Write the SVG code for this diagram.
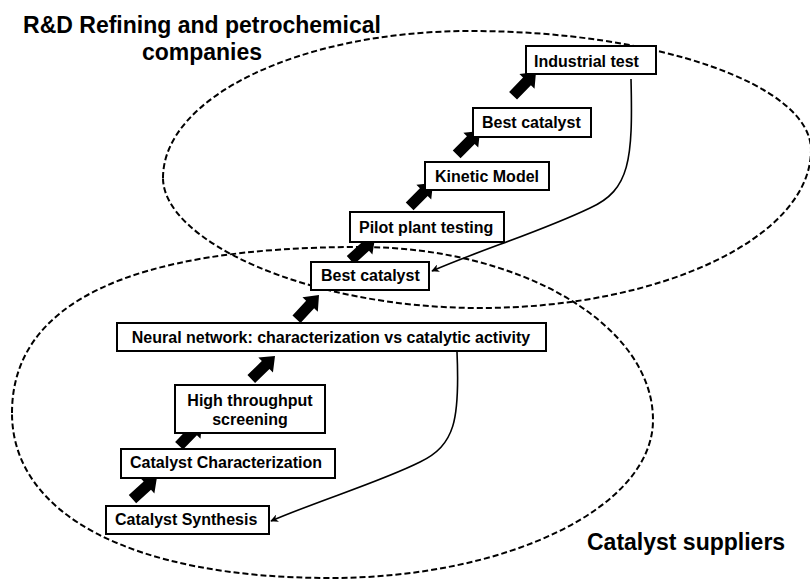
<svg xmlns="http://www.w3.org/2000/svg" xmlns:xlink="http://www.w3.org/1999/xlink" width="810" height="579" viewBox="0 0 810 579">
<style>
.region{fill:none;stroke:#000;stroke-width:2;stroke-dasharray:6 3}
.box{fill:#fff;stroke:#000;stroke-width:2}
.lbl{font-family:"Liberation Sans",Arial,sans-serif;font-weight:bold;font-size:16px;fill:#000}
.big{font-family:"Liberation Sans",Arial,sans-serif;font-weight:bold;font-size:23px;fill:#000}
.flow{fill:none;stroke:#000;stroke-width:1.6}
</style>
<defs>
<path id="blk" d="M0,0 L-13,-10.5 L-13,-5.5 L-33,-5.5 L-33,5.5 L-13,5.5 L-13,10.5 Z" fill="#000"/>
<marker id="ah" viewBox="0 0 10 10" refX="9" refY="5" markerWidth="8" markerHeight="8" markerUnits="userSpaceOnUse" orient="auto">
<path d="M0,0 L10,5 L0,10 L3,5 Z" fill="#000"/>
</marker>
</defs>
<rect width="810" height="579" fill="#fff"/>
<g id="regions">
<path id="rd-region" class="region" d="M163,178 C163,97 301,31 470,31 C657,31 811,85 811,150 C811,237 662,308 480,308 C306,308 163,240 163,178 Z"/>
<path id="supplier-region" class="region" d="M12,413 C12,303 130,247 360,247 C521,247 653,325 653,420 C653,507 508,578 330,578 C133,578 12,515 12,413 Z"/>
</g>
<g id="region-labels">
<text class="big" x="202" y="33" text-anchor="middle">R&amp;D Refining and petrochemical</text>
<text class="big" x="202" y="60" text-anchor="middle">companies</text>
<text class="big" x="587" y="550">Catalyst suppliers</text>
</g>
<g id="connectors">
<use xlink:href="#blk" transform="translate(157,477) rotate(-42)"/>
<use xlink:href="#blk" transform="translate(202,422) rotate(-46)"/>
<use xlink:href="#blk" transform="translate(275,356) rotate(-44)"/>
<use xlink:href="#blk" transform="translate(319,295) rotate(-47)"/>
<use xlink:href="#blk" transform="translate(375,238) rotate(-42)"/>
<use xlink:href="#blk" transform="translate(433,183) rotate(-45)"/>
<use xlink:href="#blk" transform="translate(480,131) rotate(-45)"/>
<use xlink:href="#blk" transform="translate(536,72) rotate(-46)"/>
<path class="flow" marker-end="url(#ah)" d="M631,79 C633,160 630,190 590,208 C540,232 480,250 432,271"/>
<path class="flow" marker-end="url(#ah)" d="M457,352 C460,420 455,445 420,462 C380,482 320,500 271,521"/>
</g>
<g id="industrial-test">
<rect class="box" x="526" y="46" width="130" height="28"/>
<text class="lbl" x="534" y="67">Industrial test</text>
</g>
<g id="best-catalyst-upper">
<rect class="box" x="473" y="108" width="118" height="29"/>
<text class="lbl" x="482" y="128">Best catalyst</text>
</g>
<g id="kinetic-model">
<rect class="box" x="425" y="162" width="124" height="28"/>
<text class="lbl" x="435" y="182">Kinetic Model</text>
</g>
<g id="pilot-plant">
<rect class="box" x="350" y="212" width="154" height="30"/>
<text class="lbl" x="359" y="233">Pilot plant testing</text>
</g>
<g id="best-catalyst-lower">
<rect class="box" x="311" y="262" width="118" height="28"/>
<text class="lbl" x="321" y="281">Best catalyst</text>
</g>
<g id="neural-network">
<rect class="box" x="117" y="323" width="429" height="28"/>
<text class="lbl" x="331" y="343" text-anchor="middle">Neural network: characterization vs catalytic activity</text>
</g>
<g id="high-throughput">
<rect class="box" x="175" y="385" width="150" height="48"/>
<text class="lbl" x="250" y="406" text-anchor="middle">High throughput</text>
<text class="lbl" x="250" y="425" text-anchor="middle">screening</text>
</g>
<g id="characterization">
<rect class="box" x="121" y="449" width="214" height="29"/>
<text class="lbl" x="130" y="468">Catalyst Characterization</text>
</g>
<g id="synthesis">
<rect class="box" x="106" y="506" width="163" height="28"/>
<text class="lbl" x="115" y="525">Catalyst Synthesis</text>
</g>
</svg>
